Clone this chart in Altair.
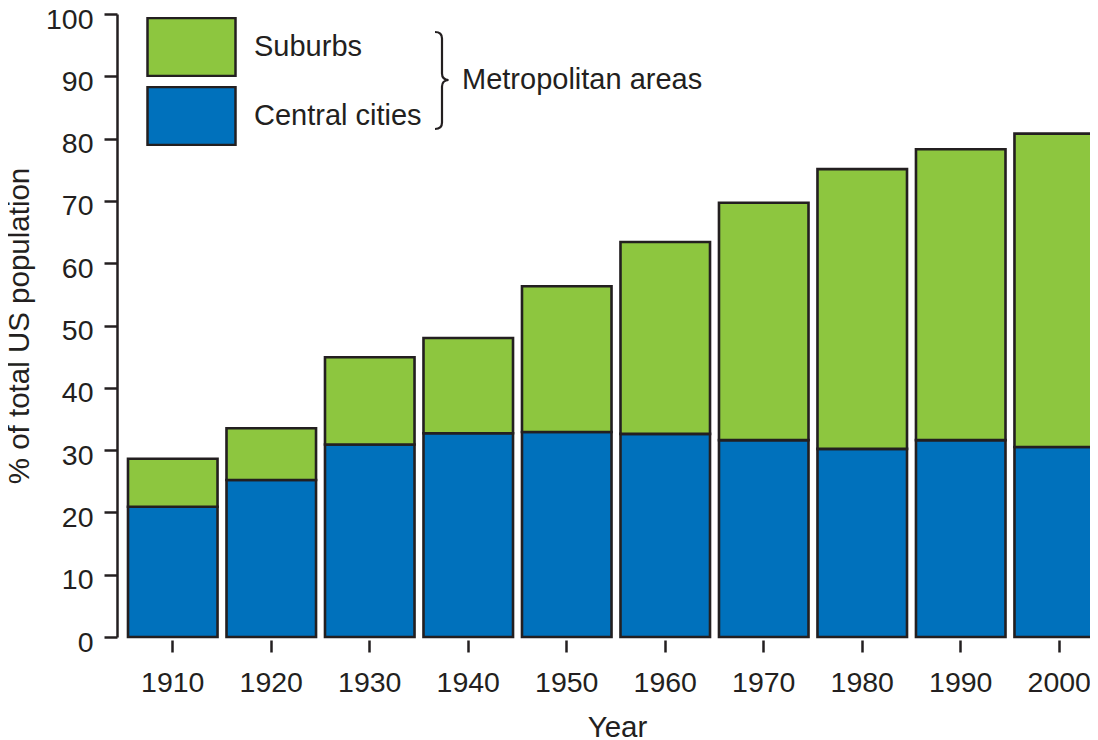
import altair as alt
import pandas as pd

years = ["1910", "1920", "1930", "1940", "1950", "1960", "1970", "1980", "1990", "2000"]
central_cities = [20.9, 25.2, 30.9, 32.7, 32.9, 32.6, 31.6, 30.2, 31.6, 30.5]
metro_total = [28.6, 33.5, 44.9, 48.0, 56.3, 63.4, 69.7, 75.1, 78.3, 80.8]
areas = ["Suburbs", "Central cities"]
colors = ["#8DC63F", "#0071BC"]
y_ticks = [0, 10, 20, 30, 40, 50, 60, 70, 80, 90, 100]
group_label = ["Metropolitan areas"]

rows = []
for yr, c, t in zip(years, central_cities, metro_total):
    rows.append({"year": yr, "area": "Central cities", "y0": 0.0, "y1": c})
    rows.append({"year": yr, "area": "Suburbs", "y0": c, "y1": t})
df = pd.DataFrame(rows)

INK = "#231F20"
FONT = "Liberation Sans"

bars = alt.Chart(df).mark_bar(stroke=INK, strokeWidth=2.6, opacity=1).encode(
    x=alt.X("year:N", sort=years,
            scale=alt.Scale(range=[11, 987], paddingInner=0.091, paddingOuter=0),
            axis=alt.Axis(title="Year", domain=False, ticks=True, tickSize=12,
                          tickWidth=2.5, tickColor=INK, offset=3, labelAngle=0,
                          labelFontSize=28.5, labelFont=FONT, labelColor=INK,
                          labelPadding=16, titleFontSize=29.5, titleFont=FONT,
                          titleFontWeight="normal", titleColor=INK,
                          titleX=500, titleY=96, titleBaseline="alphabetic")),
    y=alt.Y("y0:Q", scale=alt.Scale(domain=[0, 100], nice=False),
            axis=alt.Axis(title="% of total US population", values=y_ticks,
                          grid=False, domainColor=INK, domainWidth=2.5,
                          tickColor=INK, tickWidth=2.5, tickSize=13,
                          labelFontSize=28.5, labelFont=FONT, labelColor=INK,
                          labelPadding=11, labelOffset=5,
                          titleFontSize=29.5, titleFont=FONT, titleFontWeight="normal",
                          titleColor=INK, titleX=-89, titleBaseline="alphabetic")),
    y2="y1:Q",
    fill=alt.Fill("area:N", scale=alt.Scale(domain=areas, range=colors),
                  legend=alt.Legend(title=None, orient="none", legendX=29, legendY=3,
                                    direction="vertical",
                                    symbolType="M-1,-0.659L1,-0.659L1,0.659L-1,0.659Z",
                                    symbolSize=7744, symbolStrokeColor=INK,
                                    symbolStrokeWidth=2.5, symbolOpacity=1,
                                    clipHeight=60, rowPadding=9, labelOffset=17,
                                    labelFontSize=29, labelFont=FONT, labelColor=INK,
                                    labelLimit=500, padding=0)),
)

ann = pd.DataFrame({"label": group_label})

brace = alt.Chart(ann).mark_point(
    shape="M-0.14,-0.97Q0,-0.97 0,-0.84L0,-0.14Q0,-0.02 0.13,-0.01Q0,0 0,0.12L0,0.84Q0,0.97 -0.14,0.97",
    filled=False, stroke=INK, strokeWidth=2.2, size=10000, opacity=1,
).encode(x=alt.value(325), y=alt.value(66.5))

label = alt.Chart(ann).mark_text(
    align="left", baseline="middle", fontSize=29, font=FONT, color=INK,
).encode(x=alt.value(345), y=alt.value(66), text="label:N")

chart = alt.layer(bars, brace, label).properties(
    width=973, height=623,
    padding={"left": 109, "top": 6, "right": 0, "bottom": 103},
    autosize=alt.AutoSizeParams(type="none"),
).configure_view(stroke=None)

chart.save("out.html", embed_options={"renderer": "svg", "actions": False})
